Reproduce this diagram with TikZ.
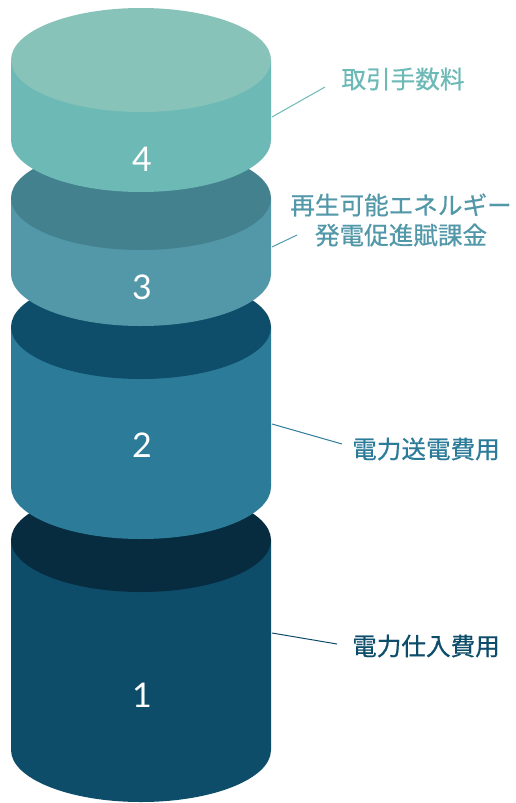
\documentclass[tikz,border=0pt]{standalone}
\usepackage{fontspec}
\setmainfont{Lato}
\newfontfamily\cjk[FakeBold=0.6]{Noto Sans CJK JP}
\definecolor{cfourtop}{HTML}{88C3BA}
\definecolor{cfourside}{HTML}{6CB9B5}
\definecolor{cthreetop}{HTML}{44818F}
\definecolor{cthreeside}{HTML}{5298A9}
\definecolor{ctwotop}{HTML}{0E4E6A}
\definecolor{ctwoside}{HTML}{2B7B99}
\definecolor{conetop}{HTML}{072C40}
\definecolor{coneside}{HTML}{0D4D6A}
\begin{document}
\begin{tikzpicture}[x=1pt,y=1pt,
  num/.style={text=white,font=\fontsize{34}{34}\selectfont,inner sep=0pt},
  lbl/.style={font=\cjk\fontsize{24.6}{30}\selectfont,inner sep=0pt,align=center},
  lead/.style={line width=1pt}]
\useasboundingbox (0,0) rectangle (515,-803);
\newcommand{\cyl}[4]{% top centre y, bottom centre y, side colour, top colour
  \fill[#3] (11,-#1) -- (11,-#2) arc[start angle=180,end angle=360,x radius=130,y radius=52] -- (271,-#1) -- cycle;
  \fill[#4] (141,-#1) ellipse[x radius=130,y radius=52];}
% cylinder 1
\cyl{540}{750}{coneside}{conetop}
\node[num] (n1) at (142,-695) {1};
% cylinder 2
\cyl{327}{487}{ctwoside}{ctwotop}
\node[num] (n2) at (142,-445) {2};
% cylinder 3
\cyl{198}{274}{cthreeside}{cthreetop}
\node[num] (n3) at (142,-287) {3};
% cylinder 4
\cyl{60}{140}{cfourside}{cfourtop}
\node[num] (n4) at (142,-159) {4};
% labels
\node[lbl,text=cfourside] (l4) at (403,-79) {取引手数料};
\node[lbl,text=cthreeside] (l3) at (401,-220) {再生可能エネルギー\\発電促進賦課金};
\node[lbl,text=ctwoside] (l2) at (426,-449) {電力送電費用};
\node[lbl,text=coneside] (l1) at (426,-646) {電力仕入費用};
% connector end points
\coordinate (a4) at (272,-117); \coordinate (b4) at (325,-87);
\coordinate (a3) at (272,-247); \coordinate (b3) at (297,-235);
\coordinate (a2) at (272,-424); \coordinate (b2) at (342,-444);
\coordinate (a1) at (272,-633); \coordinate (b1) at (337,-644);
\draw[lead,cfourside] (a4) -- (b4);
\draw[lead,cthreeside] (a3) -- (b3);
\draw[lead,ctwoside] (a2) -- (b2);
\draw[lead,coneside] (a1) -- (b1);
\end{tikzpicture}
\end{document}
